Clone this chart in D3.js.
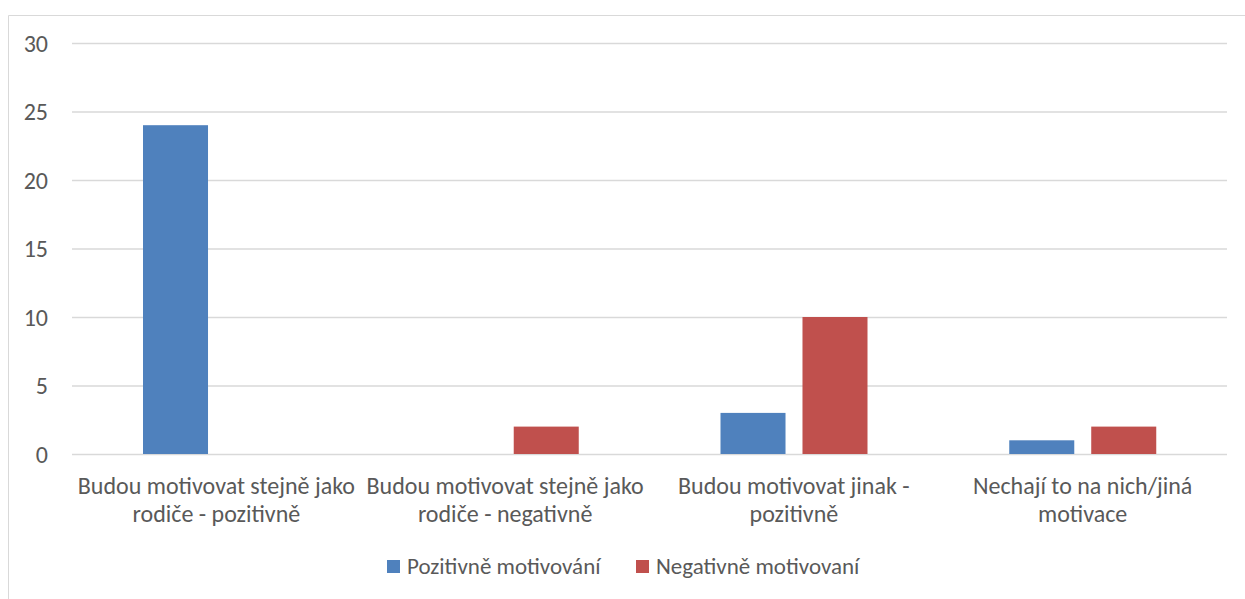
<!DOCTYPE html>
<html><head><meta charset="utf-8">
<script src="https://cdn.jsdelivr.net/npm/d3@7"></script>
<style>
html,body{margin:0;padding:0;background:#fff;}
svg{display:block;}
text{font-family:Carlito,Lato,"Open Sans",sans-serif;fill:#595959;}
</style></head><body>
<svg id="chart" width="1245" height="599"></svg>
<script>
const categories = ["Budou motivovat stejně jako rodiče - pozitivně","Budou motivovat stejně jako rodiče - negativně","Budou motivovat jinak - pozitivně","Nechají to na nich/jiná motivace"];
const seriesNames = ["Pozitivně motivování","Negativně motivovaní"];
const positive = [24, 0, 3, 1];
const negative = [0, 2, 10, 2];
const yTicks = [0,5,10,15,20,25,30];
const colors = ["#4F81BD","#C0504D"];

(function(){
const svg = d3.select("#chart");
const W = 1245, H = 599;
const pLeft = 72, pRight = 1227, pTop = 43, pBottom = 454;
const catFont = "24px";

svg.append("path").attr("d", `M8.5,${H} V15.5 H${W}`).attr("fill","none").attr("stroke","#d9d9d9").attr("stroke-width",1);

const y = d3.scaleLinear().domain([0,30]).range([pBottom, pTop]);
const x0 = d3.scaleBand().domain(categories).range([pLeft, pRight]).paddingInner(0).paddingOuter(0);
const x1 = d3.scaleBand().domain([0,1]).range([71, 218]).paddingInner(0.207).paddingOuter(0);

const yAxis = d3.axisLeft(y).tickValues(yTicks).tickSize(-(pRight-pLeft)).tickPadding(24);
const gy = svg.append("g").attr("transform",`translate(${pLeft},0)`).call(yAxis);
gy.select(".domain").remove();
gy.selectAll(".tick line").attr("stroke","#d9d9d9").attr("stroke-width",1.3);
gy.selectAll(".tick text").style("font-size","24px").style("font-family","Carlito,Lato,sans-serif").attr("fill","#595959").attr("dy","0.35em");

const data = [positive, negative];
const groups = svg.append("g").selectAll("g").data(categories).join("g")
  .attr("transform", d => `translate(${x0(d)},0)`);
groups.selectAll("rect").data((d,i) => [0,1].map(s => ({s, v: data[s][i]}))).join("rect")
  .attr("x", d => x1(d.s)).attr("width", x1.bandwidth())
  .attr("y", d => y(d.v)).attr("height", d => pBottom - y(d.v))
  .attr("fill", d => colors[d.s]);

const labG = svg.append("g");
categories.forEach(c => {
  const cx = x0(c) + x0.bandwidth()/2;
  const t = labG.append("text").attr("text-anchor","middle").style("font-size",catFont).attr("x",cx).attr("y",494);
  const words = c.split(" ");
  let lines = [], cur = [];
  const probe = labG.append("text").style("font-size",catFont);
  words.forEach(w => {
    const test = cur.concat([w]).join(" ");
    probe.text(test);
    if (probe.node().getComputedTextLength() > 286 && cur.length) { lines.push(cur.join(" ")); cur = [w]; }
    else cur.push(w);
  });
  lines.push(cur.join(" "));
  probe.remove();
  lines.forEach((l,i) => t.append("tspan").attr("x",cx).attr("y",494 + i*28).text(l));
});

const legend = svg.append("g");
const legX = [387, 636];
seriesNames.forEach((n,i) => {
  legend.append("rect").attr("x",legX[i]).attr("y",560).attr("width",13).attr("height",13).attr("fill",colors[i]);
  legend.append("text").attr("x",legX[i]+20).attr("y",574).style("font-size","23px").text(n);
});
})();
</script>
</body></html>
